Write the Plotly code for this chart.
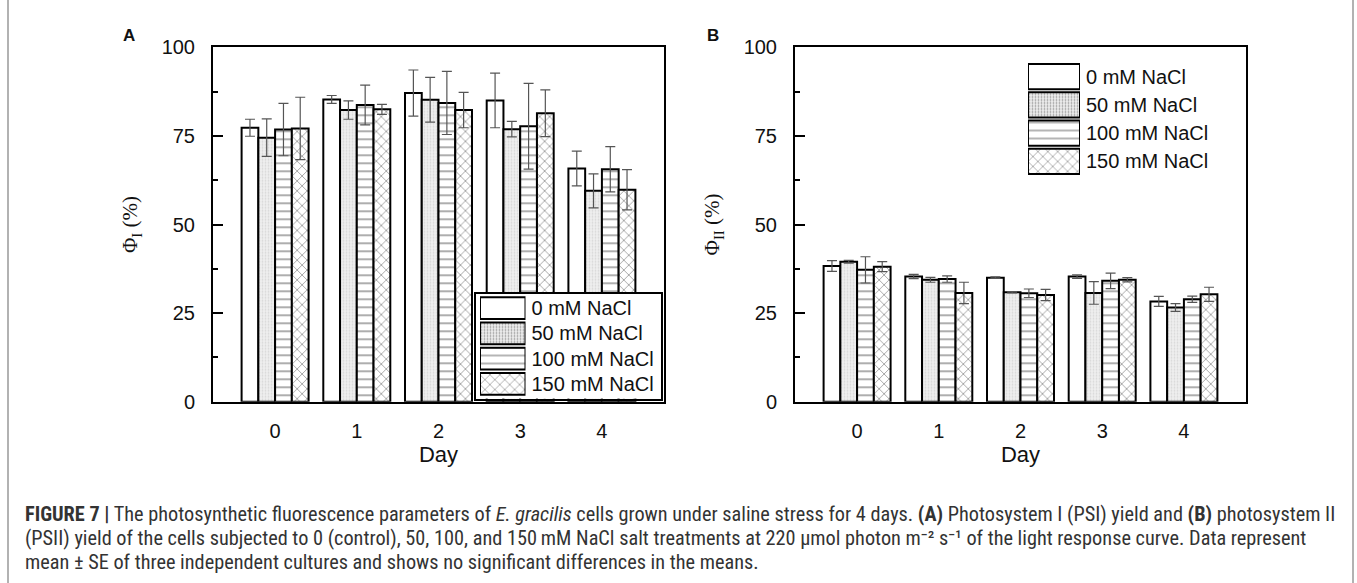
import plotly.graph_objects as go

# ---------------- data ----------------
days = [0, 1, 2, 3, 4]
day_labels = ["0", "1", "2", "3", "4"]
series_names = ["0 mM NaCl", "50 mM NaCl", "100 mM NaCl", "150 mM NaCl"]

# Panel A: PSI yield (%)
psi_0 = [77.3, 85.3, 87.1, 85.0, 65.8]
psi_50 = [74.5, 82.3, 85.2, 76.9, 59.5]
psi_100 = [76.8, 83.7, 84.3, 77.7, 65.6]
psi_150 = [77.1, 82.5, 82.3, 81.4, 59.8]
psi_0_se = [2.4, 1.1, 6.5, 7.7, 4.9]
psi_50_se = [5.3, 2.6, 6.3, 2.2, 4.8]
psi_100_se = [7.4, 5.6, 8.9, 12.1, 6.4]
psi_150_se = [8.8, 1.4, 5.0, 6.6, 5.7]

# Panel B: PSII yield (%)
psii_0 = [38.3, 35.3, 35.0, 35.3, 28.3]
psii_50 = [39.5, 34.4, 30.9, 30.7, 26.6]
psii_100 = [37.2, 34.6, 30.6, 34.1, 28.9]
psii_150 = [38.1, 30.7, 30.1, 34.4, 30.3]
psii_0_se = [1.5, 0.6, 0.2, 0.5, 1.4]
psii_50_se = [0.4, 0.7, 0.2, 3.2, 1.1]
psii_100_se = [3.7, 0.9, 1.2, 2.2, 0.9]
psii_150_se = [1.4, 3.0, 1.6, 0.6, 2.0]

y_ticks = [0, 25, 50, 75, 100]
legend_swatch = [1, 1, 1, 1]   # unit-length legend swatches
legend_box = [1]               # background of the boxed legend (panel A)

# ---------------- styles ----------------
W, H = 1357, 583
pat_shape = ["", ".", "-", "x"]
pat_bg = ["white", "#f0f0f0", "white", "white"]
pat_fg = ["black", "#bdbdbd", "#333333", "#2a2a2a"]
pat_size = [8, 3, 8, 7]
pat_sol = [0.1, 0.28, 0.2, 0.22]


def pattern(k):
    return dict(shape=pat_shape[k], bgcolor=pat_bg[k], fgcolor=pat_fg[k],
                size=pat_size[k], solidity=pat_sol[k])


fig = go.Figure()

panelA = [(psi_0, psi_0_se), (psi_50, psi_50_se), (psi_100, psi_100_se), (psi_150, psi_150_se)]
panelB = [(psii_0, psii_0_se), (psii_50, psii_50_se), (psii_100, psii_100_se), (psii_150, psii_150_se)]

for xa, ya, panel in [("x", "y", panelA), ("x2", "y2", panelB)]:
    for k, (vals, se) in enumerate(panel):
        fig.add_trace(go.Bar(
            x=days, y=vals, name=series_names[k], xaxis=xa, yaxis=ya, showlegend=False,
            marker=dict(color=pat_bg[k], line=dict(color="black", width=2), pattern=pattern(k)),
            error_y=dict(type="data", array=se, visible=True, color="#555555", thickness=1.2, width=5),
        ))

# legend A background box (subplot x3/y3)
fig.add_trace(go.Bar(x=legend_box, y=[0], orientation="h", xaxis="x3", yaxis="y3",
                     width=1, marker=dict(color="white", line=dict(width=0)),
                     showlegend=False, hoverinfo="skip"))
# legend swatches: A (x4/y4), B (x5/y5)
for xa, ya, wd in [("x4", "y4", 0.86), ("x5", "y5", 0.9)]:
    fig.add_trace(go.Bar(
        x=legend_swatch, y=series_names, orientation="h", xaxis=xa, yaxis=ya, width=wd,
        marker=dict(color=pat_bg, line=dict(color="black", width=2),
                    pattern=dict(shape=pat_shape, bgcolor=pat_bg, fgcolor=pat_fg,
                                 size=pat_size, solidity=pat_sol)),
        showlegend=False, hoverinfo="skip"))

ydom = [1 - 401.7 / H, 1 - 47.3 / H]
xdomA = [213 / W, 664 / W]
xdomB = [795 / W, 1246 / W]

tickfont = dict(family="Liberation Sans, Arial", size=20, color="#111")
legfont = dict(family="Liberation Sans, Arial", size=20, color="#111")


def xaxis(dom, anchor):
    return dict(
        domain=dom, anchor=anchor, range=[-0.76, 4.76],
        tickmode="array", tickvals=days, ticktext=day_labels,
        ticks="", showgrid=False, zeroline=False, automargin=False,
        showline=True, linecolor="black", linewidth=2, mirror=True,
        tickfont=tickfont, ticklabelstandoff=10,
        title=dict(text="Day", font=dict(family="Liberation Sans, Arial", size=22, color="#111"), standoff=6),
    )


def yaxis(dom, anchor, title):
    return dict(
        domain=dom, anchor=anchor, range=[0, 100],
        tickmode="array", tickvals=y_ticks, automargin=False,
        ticks="inside", ticklen=10, tickwidth=1.5, tickcolor="black",
        minor=dict(dtick=12.5, ticks="inside", ticklen=5, tickwidth=1.5, tickcolor="black"),
        showgrid=False, zeroline=False,
        showline=True, linecolor="black", linewidth=2, mirror=True,
        tickfont=tickfont, ticklabelstandoff=12,
        title=dict(text=title, font=dict(family="Liberation Serif, Times New Roman", size=21, color="#111"), standoff=18),
    )


hidden = dict(visible=False, showgrid=False, zeroline=False, fixedrange=True, automargin=False)

fig.update_layout(
    width=W, height=H, margin=dict(l=0, r=0, t=0, b=0, pad=0, autoexpand=False),
    paper_bgcolor="white", plot_bgcolor="white",
    barmode="group", bargap=0.18, bargroupgap=0, showlegend=False,
    xaxis=xaxis(xdomA, "y"),
    yaxis=yaxis(ydom, "x", "\u03a6<sub>I</sub> (%)"),
    xaxis2=xaxis(xdomB, "y2"),
    yaxis2=yaxis(ydom, "x2", "\u03a6<sub>II</sub> (%)"),
    # legend A box
    xaxis3=dict(domain=[475.5 / W, 660.5 / W], anchor="y3", range=[0, 1], showticklabels=False,
                ticks="", showgrid=False, zeroline=False, showline=True, mirror=True,
                linecolor="black", linewidth=2, fixedrange=True, automargin=False),
    yaxis3=dict(domain=[1 - 398.5 / H, 1 - 293.5 / H], anchor="x3", range=[-0.5, 0.5], showticklabels=False,
                ticks="", showgrid=False, zeroline=False, showline=True, mirror=True,
                linecolor="black", linewidth=2, fixedrange=True, automargin=False),
    # legend A swatches
    xaxis4=dict(domain=[480 / W, 525.5 / W], anchor="y4", range=[0, 1], **hidden),
    yaxis4=dict(domain=[1 - 396.5 / H, 1 - 295.5 / H], anchor="x4", type="category",
                categoryorder="array", categoryarray=series_names, autorange="reversed",
                side="right", ticks="", showline=False, showgrid=False, zeroline=False,
                tickfont=legfont, ticklabelstandoff=5, fixedrange=True, automargin=False),
    # legend B swatches
    xaxis5=dict(domain=[1028 / W, 1080 / W], anchor="y5", range=[0, 1], **hidden),
    yaxis5=dict(domain=[1 - 175.5 / H, 1 - 62.5 / H], anchor="x5", type="category",
                categoryorder="array", categoryarray=series_names, autorange="reversed",
                side="right", ticks="", showline=False, showgrid=False, zeroline=False,
                tickfont=legfont, ticklabelstandoff=5, fixedrange=True, automargin=False),
)

# panel letters
for lab, xx in [("A", 129), ("B", 713)]:
    fig.add_annotation(x=xx / W, y=1 - 36 / H, xref="paper", yref="paper", text="<b>%s</b>" % lab,
                       showarrow=False, xanchor="center", yanchor="middle",
                       font=dict(family="Liberation Sans, Arial", size=17, color="#111"))

# caption
cap_lines = [
    "<b>FIGURE 7 |</b> The photosynthetic fluorescence parameters of <i>E. gracilis</i> cells grown under saline stress for 4 days. "
    "<b>(A)</b> Photosystem I (PSI) yield and <b>(B)</b> photosystem II",
    "(PSII) yield of the cells subjected to 0 (control), 50, 100, and 150\u2009mM NaCl salt treatments at 220 \u03bcmol photon "
    "m\u207b\u00b2 s\u207b\u00b9 of the light response curve. Data represent",
    "mean \u00b1 SE of three independent cultures and shows no significant differences in the means.",
]
cap_y = [514, 538, 562]
for txt, yy in zip(cap_lines, cap_y):
    fig.add_annotation(x=23 / W, y=1 - yy / H, xref="paper", yref="paper", text=txt,
                       showarrow=False, xanchor="left", yanchor="middle", align="left",
                       font=dict(family="Liberation Sans Narrow, Roboto Condensed, Liberation Sans", size=20.3, color="#333"))

# frame lines
for xx in [8, 1353]:
    fig.add_shape(type="line", xref="paper", yref="paper", x0=xx / W, x1=xx / W, y0=0, y1=1,
                  line=dict(color="#999", width=1.5))

fig.write_html("out.html")
